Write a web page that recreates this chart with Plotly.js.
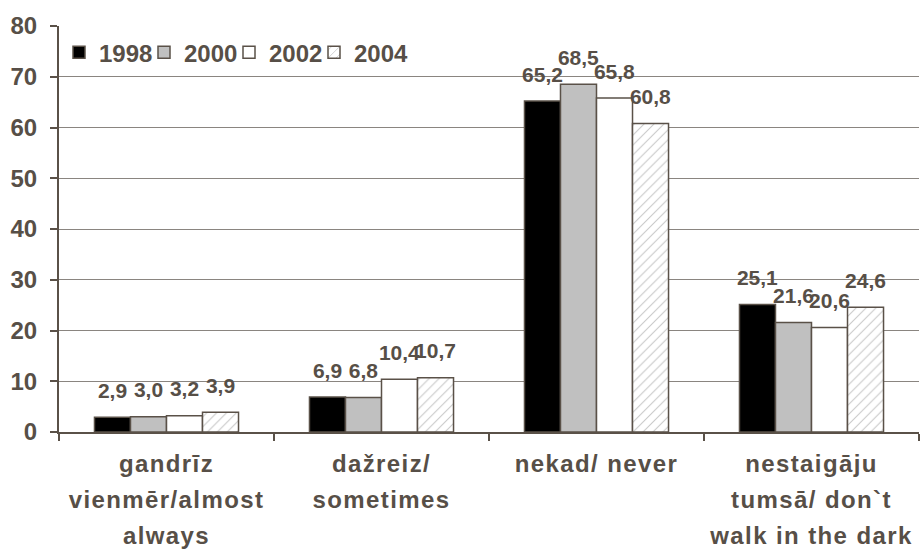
<!DOCTYPE html>
<html><head><meta charset="utf-8">
<script src="https://cdn.plot.ly/plotly-3.0.1.min.js"></script>
<style>body{margin:0;padding:0;background:#fff}#chart{width:921px;height:549px}
#chart .xtick text{letter-spacing:1.4px}
</style>
</head><body><div id="chart"></div>
<script>
var categories = ["gandrīz vienmēr/almost always", "dažreiz/ sometimes", "nekad/ never", "nestaigāju tumsā/ don`t walk in the dark"];
var categoryLines = [["gandrīz", "vienmēr/almost", "always"], ["dažreiz/", "sometimes"], ["nekad/ never"], ["nestaigāju", "tumsā/ don`t", "walk in the dark"]];
var years = ["1998", "2000", "2002", "2004"];
var v1998 = [2.9, 6.9, 65.2, 25.1];
var v2000 = [3.0, 6.8, 68.5, 21.6];
var v2002 = [3.2, 10.4, 65.8, 20.6];
var v2004 = [3.9, 10.7, 60.8, 24.6];
var yTicks = [0, 10, 20, 30, 40, 50, 60, 70, 80];

var txtColor = "#574f47";
var lineColor = "#5a5148";
var fam = "Liberation Sans, Arial, sans-serif";
var series = [v1998, v2000, v2002, v2004];
var fills = ["#000000", "#c0c0c0", "#ffffff", "#ffffff"];
var traces = series.map(function(vals, i){
  var m = {color: fills[i], line: {color: lineColor, width: 1.5}};
  if (i === 3) m.pattern = {shape: "/", fgcolor: "#c8c8c8", bgcolor: "#ffffff", size: 7, solidity: 0.15};
  return {
    type: "bar", name: years[i], x: categories, y: vals,
    text: vals.map(function(v){return v.toFixed(1).replace('.', ',');}),
    texttemplate: '<span style="font-size:21px">%{text}</span><br>&nbsp;',
    textposition: "outside", cliponaxis: false, constraintext: "none",
    textfont: {family: fam, size: 11, color: txtColor, weight: "bold"},
    marker: m
  };
});
// invisible spacer entry so the last legend label is not clipped
traces.push({type: "scatter", mode: "markers", name: " ", x: [categories[0]], y: [null],
  marker: {color: "rgba(0,0,0,0)", size: 1, line: {width: 0}}, hoverinfo: "skip"});

var tickText = categoryLines.map(function(lines){
  return lines.map(function(l){return '<span style="font-size:24px">' + l + '</span>';}).join('<br>');
});

var layout = {
  width: 921, height: 549,
  margin: {l: 59, r: 2, t: 26, b: 117},
  paper_bgcolor: "#fff", plot_bgcolor: "#fff",
  barmode: "group", bargap: 0.33, bargroupgap: 0,
  font: {family: fam, color: txtColor, size: 24, weight: "bold"},
  showlegend: true,
  legend: {orientation: "h", x: 0.0, y: 0.99, xanchor: "left", yanchor: "top",
           font: {family: fam, size: 24, color: txtColor, weight: "bold"}, bgcolor: "rgba(0,0,0,0)",
           itemwidth: 30, entrywidth: 40, tracegroupgap: 0},
  xaxis: {type: "category", showline: true, linecolor: lineColor, linewidth: 2,
          tickmode: "array", tickvals: categories, ticktext: tickText,
          ticks: "outside", tickson: "boundaries", ticklen: 7, tickcolor: lineColor, tickwidth: 2,
          tickfont: {family: fam, size: 28, color: txtColor, weight: "bold"}, showgrid: false,
          ticklabelstandoff: 4},
  yaxis: {range: [0, 80], tickvals: yTicks, showline: true, linecolor: lineColor, linewidth: 2,
          ticks: "outside", ticklen: 7, tickcolor: lineColor, tickwidth: 2,
          gridcolor: "#8a8580", gridwidth: 1, zeroline: false, ticklabelstandoff: 8,
          tickfont: {family: fam, size: 24, color: txtColor, weight: "bold"}}
};
Plotly.newPlot("chart", traces, layout, {displayModeBar: false, staticPlot: true});
</script></body></html>
